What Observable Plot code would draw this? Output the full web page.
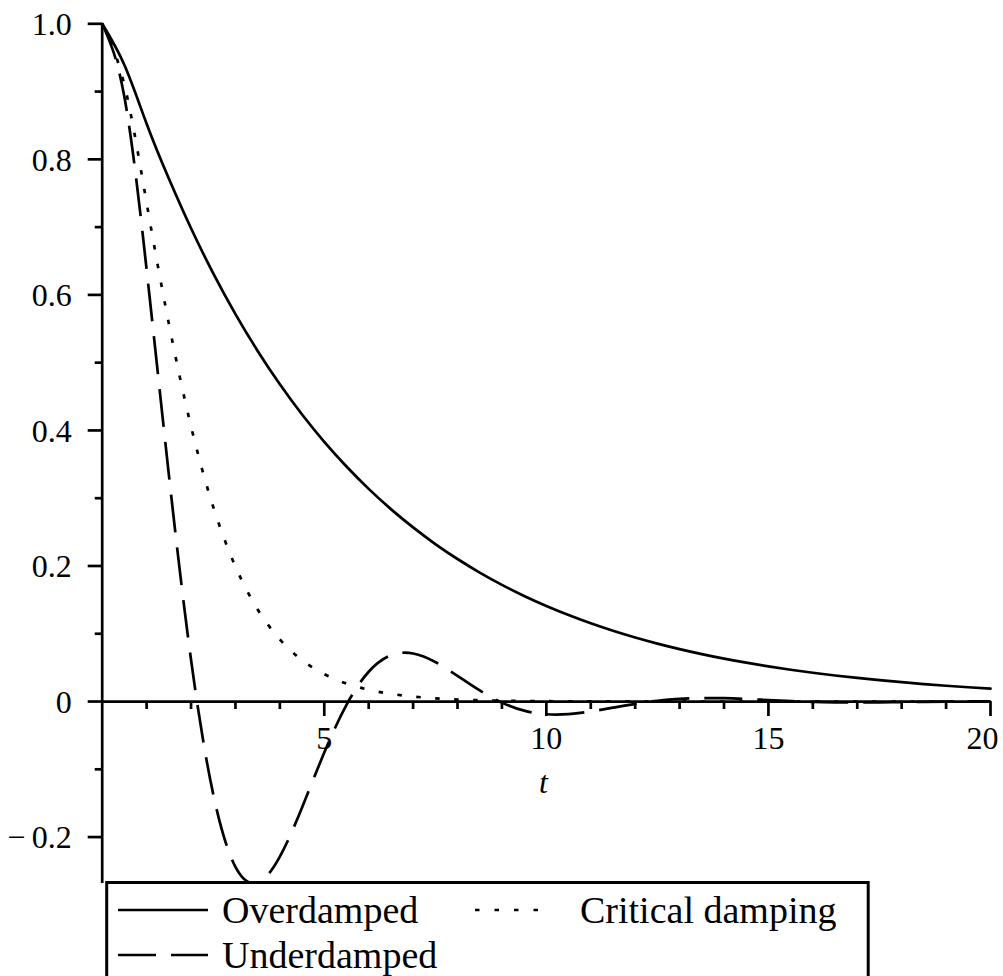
<!DOCTYPE html>
<html><head><meta charset="utf-8">
<script src="https://cdn.jsdelivr.net/npm/d3@7"></script>
<script src="https://cdn.jsdelivr.net/npm/@observablehq/plot@0.6"></script>
<style>
html,body{margin:0;padding:0;background:#fff;overflow:hidden;width:1003px;height:976px;}
#wrap{position:relative;width:1003px;height:976px;overflow:hidden;}
#chart{position:absolute;left:0;top:0;}
#legend{position:absolute;left:0;top:0;}
</style></head>
<body><div id="wrap"><div id="chart"></div><svg id="legend" width="1003" height="976"></svg></div>
<script>
const tValues = [0,0.5,1,1.5,2,2.5,3,3.5,4,4.5,5,5.5,6,6.5,7,7.5,8,8.5,9,9.5,10,10.5,11,11.5,12,12.5,13,13.5,14,14.5,15,15.5,16,16.5,17,17.5,18,18.5,19,19.5,20];
const overdamped = [1.000,0.9391,0.8526,0.7717,0.6983,0.6318,0.5717,0.5173,0.4681,0.4235,0.3832,0.3468,0.3138,0.2839,0.2569,0.2324,0.2103,0.1903,0.1722,0.1558,0.1410,0.1276,0.1154,0.1044,0.0945,0.0855,0.0774,0.0700,0.0633,0.0573,0.0519,0.0469,0.0425,0.0384,0.0348,0.0315,0.0285,0.0258,0.0233,0.0211,0.0191];
const criticalDamping = [1.000,0.9098,0.7358,0.5578,0.4060,0.2873,0.1991,0.1359,0.0916,0.0611,0.0404,0.0266,0.0174,0.0113,0.0073,0.0047,0.0030,0.0019,0.0012,0.0008,0.0005,0.0003,0.0002,0.0001,0.0001,0,0,0,0,0,0,0,0,0,0,0,0,0,0,0,0];
const underdamped = [1.000,0.8920,0.6375,0.3352,0.0616,-0.1368,-0.2440,-0.2673,-0.2289,-0.1563,-0.0753,-0.0049,0.0439,0.0682,0.0709,0.0583,0.0379,0.0164,-0.0016,-0.0135,-0.0188,-0.0186,-0.0147,-0.0091,-0.0034,0.0012,0.0040,0.0051,0.0049,0.0037,0.0021,0.0007,-0.0005,-0.0012,-0.0014,-0.0013,-0.0009,-0.0005,-0.0001,0.0002,0.0003];

const xMajorTicks = [5,10,15];
const xTickLabels = ["5","10","15"];
const xLastTick = [20];
const xLastLabel = ["20"];
const xMinorTicks = [1,2,3,4,6,7,8,9,11,12,13,14,16,17,18,19];
const yMajorTicks = [-0.2,0,0.2,0.4,0.6,0.8,1.0];
const yTickLabels = ["\u2212\u20090.2","0","0.2","0.4","0.6","0.8","1.0"];
const yMinorTicks = [-0.1,0.1,0.3,0.5,0.7,0.9];
const xLabel = "t";
const seriesNames = ["Overdamped","Critical damping","Underdamped"];

const rows = (vals, name) => tValues.map((t, i) => ({t, y: vals[i], series: name}));
const overRows = rows(overdamped, seriesNames[0]);
const critRows = rows(criticalDamping, seriesNames[1]);
const underRows = rows(underdamped, seriesNames[2]);

const FONT = "'Liberation Serif','Times New Roman',Times,serif";
const SW = 2.7;

const chart = Plot.plot({
  width: 1003,
  height: 883,
  marginLeft: 101.7,
  marginRight: 13,
  marginTop: 23.3,
  marginBottom: 0,
  x: {domain: [0, 20], axis: null},
  y: {domain: [-0.2685, 1], axis: null},
  style: {fontFamily: FONT, background: "white", overflow: "visible", color: "black"},
  marks: [
    Plot.ruleY([0], {x1: 0, x2: 20, stroke: "black", strokeWidth: SW}),
    Plot.ruleX([0], {y1: -0.2685, y2: 1, stroke: "black", strokeWidth: SW}),
    Plot.ruleX(xMinorTicks, {x: d => d, y1: 0, y2: 0, insetTop: 0, insetBottom: -8, stroke: "black", strokeWidth: SW}),
    Plot.ruleX(xMajorTicks.concat(xLastTick), {x: d => d, y1: 0, y2: 0, insetTop: 0, insetBottom: -15, stroke: "black", strokeWidth: SW}),
    Plot.ruleY(yMinorTicks, {y: d => d, x1: 0, x2: 0, insetLeft: -7, insetRight: 0, stroke: "black", strokeWidth: SW}),
    Plot.ruleY(yMajorTicks, {y: d => d, x1: 0, x2: 0, insetLeft: -14, insetRight: 0, stroke: "black", strokeWidth: SW}),
    Plot.text(xMajorTicks, {x: d => d, y: 0, dy: 37, text: (d, i) => xTickLabels[i], fontSize: 32, lineAnchor: "middle", fill: "black"}),
    Plot.text(xLastTick, {x: d => d, y: 0, dy: 37, dx: -8, text: (d, i) => xLastLabel[i], fontSize: 32, lineAnchor: "middle", fill: "black"}),
    Plot.text(yMajorTicks, {x: 0, y: d => d, dx: -30.5, dy: 1, textAnchor: "end", text: (d, i) => yTickLabels[i], fontSize: 32, lineAnchor: "middle", fill: "black"}),
    Plot.text([xLabel], {x: 10, y: 0, dy: 81, dx: -3, text: d => d, fontSize: 32, fontStyle: "italic", lineAnchor: "middle", fill: "black"}),
    Plot.line(overRows, {x: "t", y: "y", curve: "natural", stroke: "black", strokeWidth: SW}),
    Plot.line(critRows, {x: "t", y: "y", curve: "natural", stroke: "black", strokeWidth: SW, strokeDasharray: "4.5,14.5", strokeLinecap: "butt"}),
    Plot.line(underRows, {x: "t", y: "y", curve: "natural", stroke: "black", strokeWidth: SW, strokeDasharray: "38,15", strokeLinecap: "butt"})
  ]
});
document.getElementById("chart").appendChild(chart);

// Legend box overlapping the bottom of the plot, as in the reference
const lg = d3.select("#legend");
lg.append("rect").attr("x", 106.7).attr("y", 882.5).attr("width", 761.5).attr("height", 200)
  .attr("fill", "white").attr("stroke", "black").attr("stroke-width", 3);
const items = [
  {name: seriesNames[0], x0: 118, x1: 208, y: 910, tx: 222, dash: null},
  {name: seriesNames[1], x0: 475, x1: 553, y: 910, tx: 580, dash: "4.5,15"},
  {name: seriesNames[2], x0: 118, x1: 208, y: 955, tx: 222, dash: "38,15"}
];
for (const it of items) {
  const l = lg.append("line").attr("x1", it.x0).attr("x2", it.x1).attr("y1", it.y).attr("y2", it.y)
    .attr("stroke", "black").attr("stroke-width", SW);
  if (it.dash) l.attr("stroke-dasharray", it.dash);
  lg.append("text").attr("x", it.tx).attr("y", it.y + 12.5).attr("font-family", FONT)
    .attr("font-size", 38).attr("fill", "black").text(it.name);
}
</script>
</body></html>
